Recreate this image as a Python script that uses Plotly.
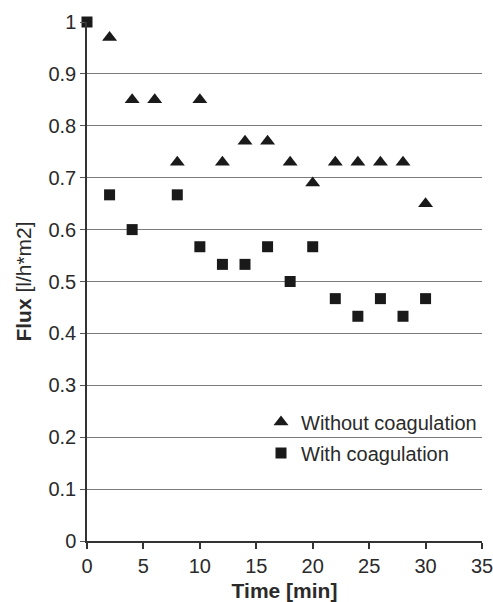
import plotly.graph_objects as go

time_without = [2, 4, 6, 8, 10, 12, 14, 16, 18, 20, 22, 24, 26, 28, 30]
flux_without = [0.97, 0.85, 0.85, 0.73, 0.85, 0.73, 0.77, 0.77, 0.73, 0.69, 0.73, 0.73, 0.73, 0.73, 0.65]

time_with = [0, 2, 4, 8, 10, 12, 14, 16, 18, 20, 22, 24, 26, 28, 30]
flux_with = [1.0, 0.667, 0.6, 0.667, 0.567, 0.533, 0.533, 0.567, 0.5, 0.567, 0.467, 0.433, 0.467, 0.433, 0.467]

FONT = "Liberation Sans, Arial, sans-serif"
INK = "#1a1a1a"

fig = go.Figure()
fig.add_trace(go.Scatter(
    x=time_without, y=flux_without, mode="markers", name="Without coagulation",
    marker=dict(symbol="triangle-up", size=13, color=INK),
    cliponaxis=False, legendgroup="a"))
fig.add_trace(go.Scatter(
    x=time_with, y=flux_with, mode="markers", name="With coagulation",
    marker=dict(symbol="square", size=11, color=INK),
    cliponaxis=False, legendgroup="b"))

fig.update_layout(
    width=493, height=602,
    margin=dict(l=87, r=11, t=22, b=61),
    plot_bgcolor="white", paper_bgcolor="white",
    font=dict(family=FONT, size=20, color="#2a2a2a"),
    showlegend=True,
    legend=dict(x=1.0, y=0.267, xanchor="right", yanchor="top",
                bgcolor="rgba(0,0,0,0)", font=dict(size=20, color="#2a2a2a"),
                itemwidth=30, tracegroupgap=2, traceorder="grouped"),
)
fig.update_xaxes(
    range=[0, 35], tickvals=[0, 5, 10, 15, 20, 25, 30, 35],
    showgrid=False, zeroline=False, automargin=False,
    showline=True, linecolor="#333", linewidth=1.5,
    ticks="outside", ticklen=6, tickcolor="#333", tickwidth=1.5,
    tickfont=dict(size=20), ticklabeloverflow="allow",
    title=dict(text="<b>Time [min]</b>", font=dict(size=21, color="#2a2a2a"), standoff=8),
)
fig.update_yaxes(
    range=[0, 1], tickvals=[0, 0.1, 0.2, 0.3, 0.4, 0.5, 0.6, 0.7, 0.8, 0.9, 1],
    ticktext=["0", "0.1", "0.2", "0.3", "0.4", "0.5", "0.6", "0.7", "0.8", "0.9", "1"],
    showgrid=True, gridcolor="#7a7a7a", gridwidth=1.2, zeroline=False, automargin=False,
    showline=True, linecolor="#333", linewidth=1.5,
    ticks="outside", ticklen=5, tickcolor="#555", tickwidth=1.2,
    tickfont=dict(size=20),
    title=dict(text="<b>Flux</b> [l/h*m2]", font=dict(size=21, color="#2a2a2a"), standoff=11),
)

fig.write_html(
    "out.html",
    config={"displayModeBar": False},
    post_script="document.body.style.margin='0';document.body.style.overflow='hidden';",
)
